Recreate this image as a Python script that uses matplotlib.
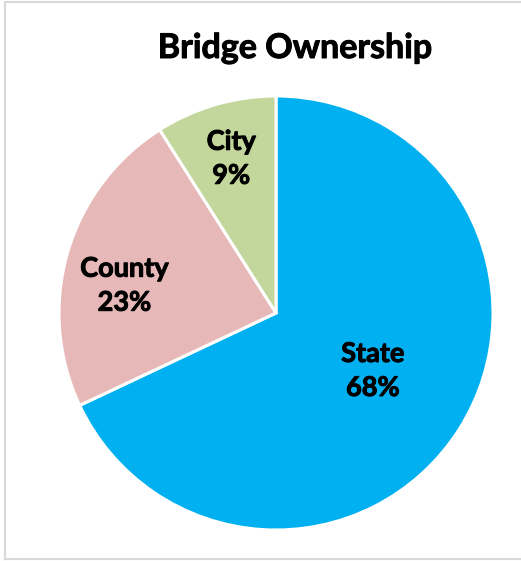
import numpy as np
import matplotlib
matplotlib.use("Agg")
import matplotlib.pyplot as plt
from matplotlib.lines import Line2D
import matplotlib.patheffects as pe

categories = ["State", "County", "City"]
values = [68, 23, 9]
colors = ["#00B0F0", "#E6B9B8", "#C3D69B"]
title = "Bridge Ownership"

label_dist = [0.52, 0.71, 0.74]
angle_shift = [1.5, 6, 0]

plt.rcParams['font.family'] = ['Lato', 'DejaVu Sans']

fig = plt.figure(figsize=(5.21, 5.61), dpi=100)
W, H = 521, 561

# border
for (x0, y0, x1, y1) in [(5, 2, 521, 2), (5, 2, 5, 559), (5, 559, 521, 559)]:
    fig.add_artist(Line2D([x0 / W, x1 / W], [1 - y0 / H, 1 - y1 / H],
                          transform=fig.transFigure, color="#D9D9D9", lw=1.5))

cx, cy, r = 276, 313, 217
ax = fig.add_axes([(cx - r) / W, (H - cy - r) / H, 2 * r / W, 2 * r / H])
wedges, _ = ax.pie(values, colors=colors, startangle=90, counterclock=False,
                   wedgeprops=dict(edgecolor="white", linewidth=2.2))
ax.set_xlim(-1, 1)
ax.set_ylim(-1, 1)
ax.set_aspect("auto")
ax.axis("off")

thick = [pe.withStroke(linewidth=0.7, foreground="black")]
for w, cat, v, d, sh in zip(wedges, categories, values, label_dist, angle_shift):
    mid = np.deg2rad((w.theta1 + w.theta2) / 2 + sh)
    ax.text(d * np.cos(mid), d * np.sin(mid), f"{cat}\n{v}%", ha="center", va="center",
            fontsize=19.5, fontweight="bold", color="black", linespacing=1.5,
            path_effects=thick)

fig.text(295 / W, 1 - 48 / H, title, ha="center", va="center",
         fontsize=24.5, fontweight="bold", color="black", path_effects=thick)

fig.savefig("out.png", dpi=100)
